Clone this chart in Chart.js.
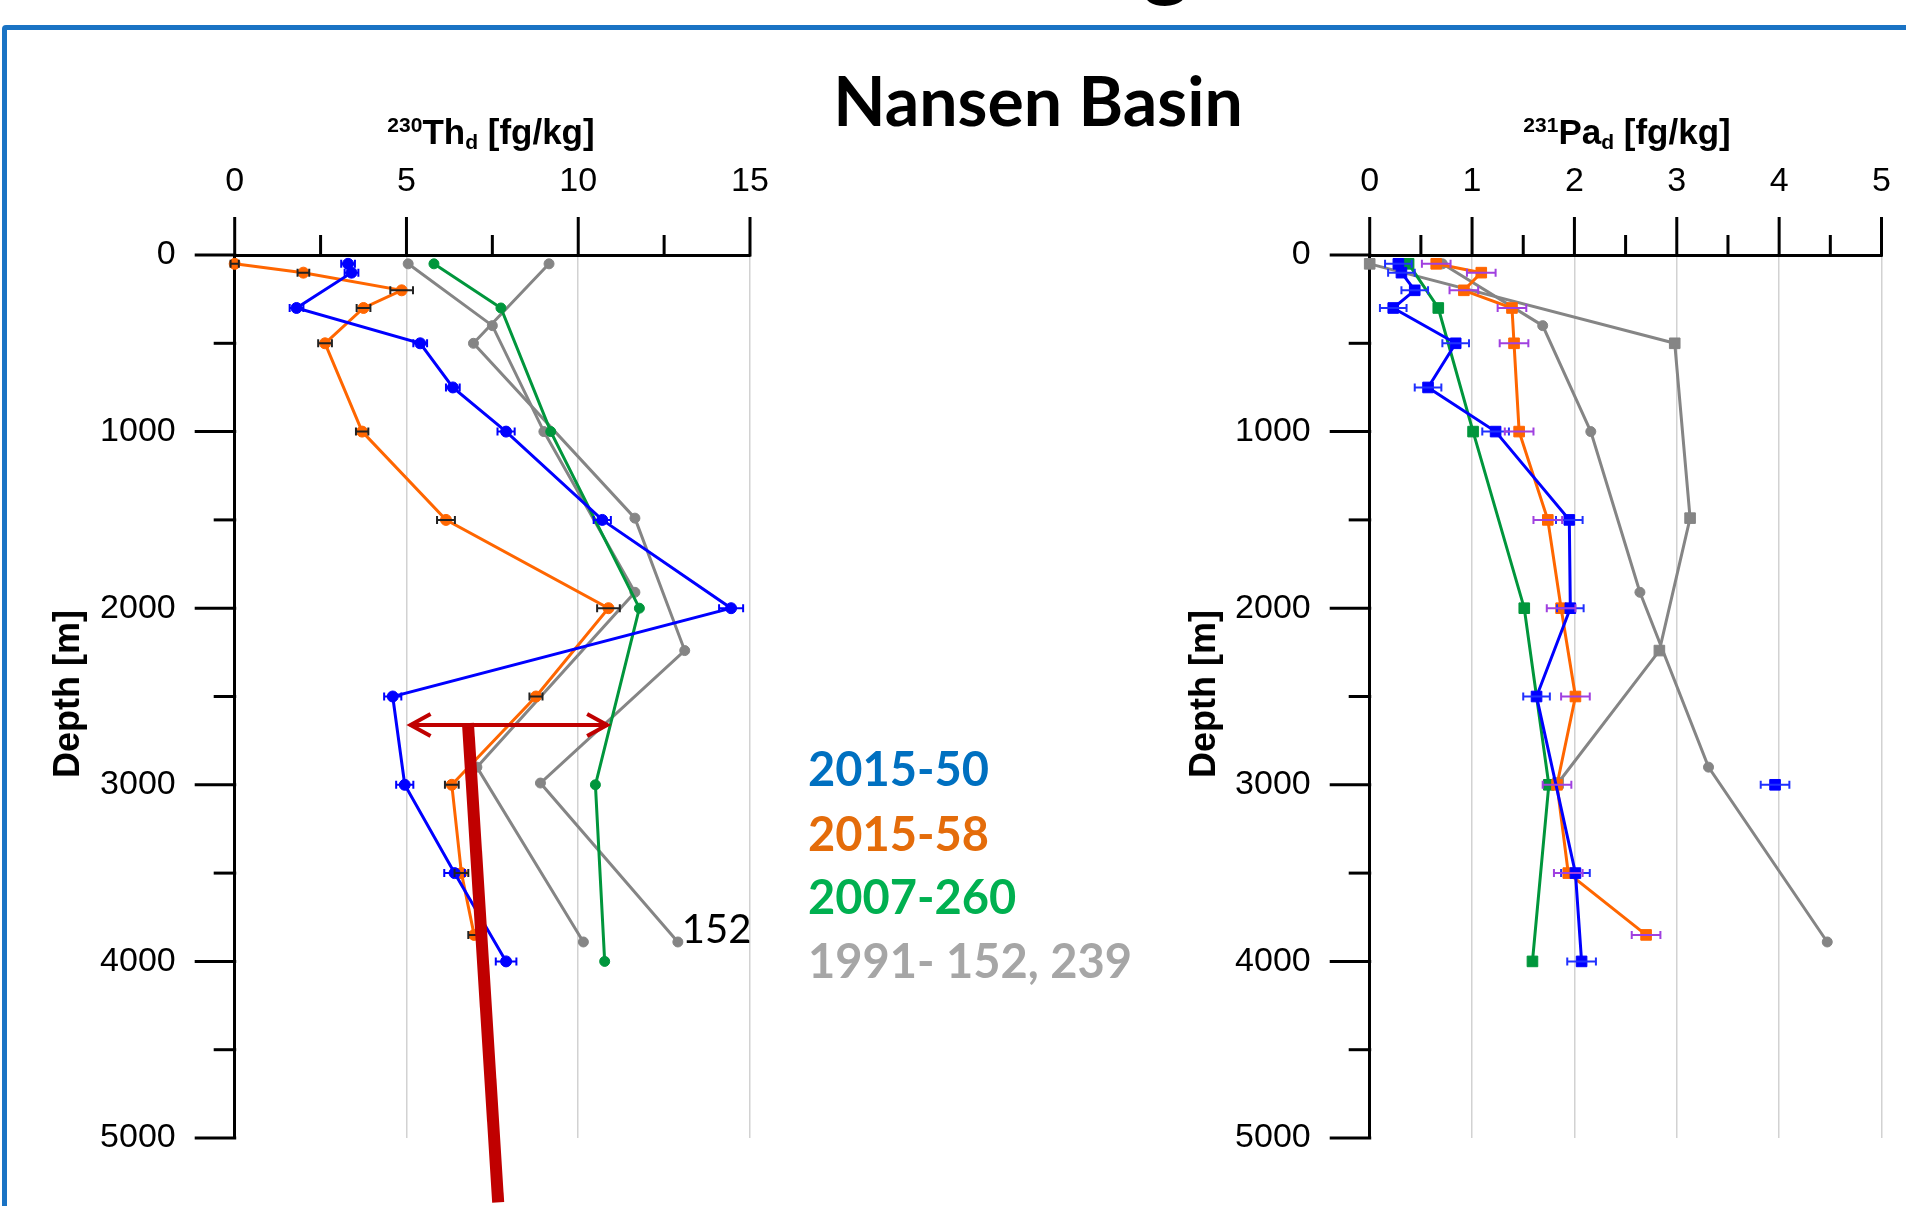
<!DOCTYPE html>
<html>
<head>
<meta charset="utf-8">
<script src="https://cdn.jsdelivr.net/npm/chart.js@4.4.1/dist/chart.umd.min.js"></script>
<style>
  html, body { margin: 0; padding: 0; background: #fff; }
  body { width: 1906px; height: 1206px; position: relative; overflow: hidden; font-family: "Liberation Sans", Arial, sans-serif; }
  canvas { position: absolute; }
  .frame { position: absolute; left: 2px; top: 25px; width: 2100px; height: 1400px; border: 5px solid #1a73c4; border-radius: 4px; box-sizing: border-box; }
  .txt { position: absolute; white-space: nowrap; line-height: 1.2; }
  .center { transform: translate(-50%, -50%); }
  .axt { font: bold 35px "Liberation Sans", Arial, sans-serif; color: #000; line-height: 1; }
  .axt sup { font-size: 0.6em; vertical-align: 0.55em; line-height: 0; }
  .axt sub { font-size: 0.6em; vertical-align: -0.25em; line-height: 0; }
  .depth { font: bold 36px "Liberation Sans", Arial, sans-serif; transform: translate(-50%, -50%) rotate(-90deg); }
  .leg { font: bold 47px Lato, "Open Sans", sans-serif; transform: translate(0, -50%); }
</style>
</head>
<body>
<div class="frame"></div>
<div class="txt" style="left:1166px; top:-91px; transform:translateX(-50%); font:bold 90px Lato, sans-serif; line-height:90px;">g</div>
<div class="txt center" style="left:1038px; top:99px; font:bold 68px Lato, sans-serif;">Nansen Basin</div>

<canvas id="thChart" width="820" height="1066" style="left:0; top:140px;"></canvas>
<canvas id="paChart" width="756" height="1066" style="left:1150px; top:140px;"></canvas>

<div class="txt center axt" style="left:491px; top:131px;"><sup>230</sup>Th<sub>d</sub> [fg/kg]</div>
<div class="txt center axt" style="left:1627px; top:131px;"><sup>231</sup>Pa<sub>d</sub> [fg/kg]</div>
<div class="txt depth" style="left:67px; top:694px;">Depth [m]</div>
<div class="txt depth" style="left:1203px; top:694px;">Depth [m]</div>

<div class="txt leg" style="left:808px; top:768px; color:#0070c0;">2015-50</div>
<div class="txt leg" style="left:808px; top:833px; color:#e46c0a;">2015-58</div>
<div class="txt leg" style="left:808px; top:896px; color:#00b050;">2007-260</div>
<div class="txt leg" style="left:808px; top:960px; color:#a6a6a6;">1991- 152, 239</div>

<script>
// ---- 230Th dissolved, fg/kg (left panel) ----
const thBlueDepth = [50, 100, 300, 500, 750, 1000, 1500, 2000, 2500, 3000, 3500, 4000];
const thBlue = [3.3, 3.4, 1.8, 5.4, 6.35, 7.9, 10.7, 14.45, 4.6, 4.95, 6.4, 7.9];
const thBlueErr = [0.2, 0.2, 0.2, 0.2, 0.2, 0.25, 0.25, 0.35, 0.25, 0.25, 0.3, 0.3];

const thOrangeDepth = [50, 100, 200, 300, 500, 1000, 1500, 2000, 2500, 3000, 3500, 3850];
const thOrange = [0.0, 2.0, 4.86, 3.75, 2.63, 3.71, 6.15, 10.88, 8.77, 6.32, 6.6, 6.97];
const thOrangeErr = [0.12, 0.17, 0.33, 0.2, 0.2, 0.18, 0.26, 0.33, 0.19, 0.2, 0.2, 0.17];

const thGreenDepth = [50, 300, 1000, 2000, 3000, 4000];
const thGreen = [5.8, 7.75, 9.2, 11.78, 10.5, 10.77];

const thGray239Depth = [50, 400, 1000, 1910, 2900, 3890];
const thGray239 = [5.05, 7.5, 9.0, 11.65, 7.05, 10.15];
const thGray152Depth = [50, 500, 1490, 2240, 2990, 3890];
const thGray152 = [9.15, 6.95, 11.65, 13.1, 8.9, 12.9];

// ---- 231Pa dissolved, fg/kg (right panel) ----
const paBlueDepth = [50, 100, 200, 300, 500, 750, 1000, 1500, 2000, 2500, 3500, 4000];
const paBlue = [0.28, 0.31, 0.44, 0.23, 0.84, 0.57, 1.23, 1.95, 1.96, 1.63, 2.01, 2.07];
const paBlueErr = [0.13, 0.13, 0.13, 0.13, 0.13, 0.13, 0.13, 0.13, 0.13, 0.13, 0.14, 0.14];
const paBlueOutlierDepth = [3000];
const paBlueOutlier = [3.96];
const paBlueOutlierErr = [0.14];

const paOrangeDepth = [50, 100, 200, 300, 500, 1000, 1500, 2000, 2500, 3000, 3500, 3850];
const paOrange = [0.65, 1.09, 0.92, 1.39, 1.41, 1.46, 1.74, 1.87, 2.01, 1.83, 1.94, 2.70];
const paOrangeErr = [0.14, 0.14, 0.14, 0.14, 0.14, 0.14, 0.14, 0.14, 0.14, 0.14, 0.14, 0.14];

const paGreenDepth = [50, 300, 1000, 2000, 3000, 4000];
const paGreen = [0.38, 0.67, 1.01, 1.51, 1.75, 1.59];

const paGray152Depth = [50, 500, 1490, 2240, 2990];
const paGray152 = [0.0, 2.98, 3.13, 2.83, 1.84];
const paGray239Depth = [50, 400, 1000, 1910, 2900, 3890];
const paGray239 = [0.71, 1.69, 2.16, 2.64, 3.31, 4.47];

// red arrow annotation on the Th panel (data units)
const arrowTh = [5.09, 10.87];
const arrowDepth = 2662;
const pointerTh = [6.79, 7.67];
const pointerDepth = [2662, 5364];

const BLUE = '#0000ff', ORANGE = '#ff6600', GREEN = '#00963c', GRAY = '#858585';

function series(label, xs, depths, color, style, r, err, errColor, showLine = true) {
  return {
    label,
    data: depths.map((d, i) => ({ x: xs[i], y: d })),
    borderColor: color,
    backgroundColor: color,
    pointStyle: style,
    pointRadius: r,
    pointBorderWidth: 1,
    borderWidth: 3,
    showLine,
    clip: false,
    xErr: err,
    errColor
  };
}

const isMultiple = (v, every) => Math.abs(v / every - Math.round(v / every)) < 1e-9;

// tick marks: long at labelled values, short in between
const tickMarks = {
  id: 'tickMarks',
  afterDraw(chart) {
    const { ctx, chartArea, scales: { x, y } } = chart;
    const every = chart.options.scales.x.labelEvery;
    ctx.save();
    ctx.strokeStyle = '#000';
    ctx.lineWidth = 3;
    x.ticks.forEach(t => {
      const px = x.getPixelForValue(t.value);
      const len = isMultiple(t.value, every) ? 38 : 20;
      ctx.beginPath();
      ctx.moveTo(px, chartArea.top + 1.5);
      ctx.lineTo(px, chartArea.top - len);
      ctx.stroke();
    });
    y.ticks.forEach(t => {
      const py = y.getPixelForValue(t.value);
      const len = t.value % 1000 === 0 ? 40 : 21;
      ctx.beginPath();
      ctx.moveTo(chartArea.left + 1.5, py);
      ctx.lineTo(chartArea.left - len, py);
      ctx.stroke();
    });
    ctx.restore();
  }
};

const errorBars = {
  id: 'errorBars',
  afterDatasetsDraw(chart) {
    const { ctx, scales: { x, y } } = chart;
    chart.data.datasets.forEach(ds => {
      if (!ds.xErr) return;
      ctx.save();
      ctx.strokeStyle = ds.errColor;
      ctx.lineWidth = 2;
      ds.data.forEach((p, i) => {
        const e = ds.xErr[i];
        const py = y.getPixelForValue(p.y);
        const x1 = x.getPixelForValue(p.x - e);
        const x2 = x.getPixelForValue(p.x + e);
        ctx.beginPath();
        ctx.moveTo(x1, py); ctx.lineTo(x2, py);
        ctx.moveTo(x1, py - 4); ctx.lineTo(x1, py + 4);
        ctx.moveTo(x2, py - 4); ctx.lineTo(x2, py + 4);
        ctx.stroke();
      });
      ctx.restore();
    });
  }
};

const thNotes = {
  id: 'thNotes',
  afterDraw(chart) {
    const { ctx, scales: { x, y } } = chart;
    ctx.save();
    ctx.fillStyle = '#000';
    ctx.font = '40px Lato, sans-serif';
    ctx.textBaseline = 'alphabetic';
    ctx.fillText('152', x.getPixelForValue(thGray152.at(-1)) + 4, y.getPixelForValue(thGray152Depth.at(-1)) + 1);

    const ax1 = x.getPixelForValue(arrowTh[0]);
    const ax2 = x.getPixelForValue(arrowTh[1]);
    const ay = y.getPixelForValue(arrowDepth);
    ctx.strokeStyle = '#c00000';
    ctx.lineWidth = 4;
    ctx.beginPath();
    ctx.moveTo(ax1, ay); ctx.lineTo(ax2, ay);
    ctx.moveTo(ax1 + 21, ay - 11); ctx.lineTo(ax1 + 1, ay); ctx.lineTo(ax1 + 21, ay + 11);
    ctx.moveTo(ax2 - 21, ay - 11); ctx.lineTo(ax2 - 1, ay); ctx.lineTo(ax2 - 21, ay + 11);
    ctx.stroke();

    ctx.lineWidth = 12;
    ctx.lineCap = 'butt';
    ctx.beginPath();
    ctx.moveTo(x.getPixelForValue(pointerTh[0]), y.getPixelForValue(pointerDepth[0]) - 2);
    ctx.lineTo(x.getPixelForValue(pointerTh[1]), y.getPixelForValue(pointerDepth[1]));
    ctx.stroke();
    ctx.restore();
  }
};

function profileChart(id, datasets, xMax, xStep, labelEvery, axisWidth, padRight, extra) {
  const tickFont = { family: "'Liberation Sans', Arial, sans-serif", size: 34 };
  return new Chart(document.getElementById(id), {
    type: 'line',
    data: { datasets },
    options: {
      responsive: false,
      animation: false,
      devicePixelRatio: 1,
      layout: { autoPadding: false, padding: { top: 0, right: padRight, bottom: 68, left: 0 } },
      elements: { line: { tension: 0 } },
      plugins: { legend: { display: false }, tooltip: { enabled: false } },
      scales: {
        x: {
          type: 'linear',
          position: 'top',
          min: 0,
          max: xMax,
          labelEvery,
          ticks: {
            stepSize: xStep,
            padding: 53,
            color: '#000',
            font: tickFont,
            maxRotation: 0,
            autoSkip: false,
            callback: v => (isMultiple(v, labelEvery) ? v : '')
          },
          grid: {
            drawTicks: false,
            lineWidth: 1.5,
            color: c => (c.tick && c.tick.value > 0 && isMultiple(c.tick.value, labelEvery)) ? '#d2d2d2' : 'rgba(0,0,0,0)'
          },
          border: { display: true, color: '#000', width: 3 },
          afterFit: s => { s.height = 115; s.paddingLeft = 0; s.paddingRight = 0; }
        },
        y: {
          type: 'linear',
          reverse: true,
          min: 0,
          max: 5000,
          ticks: {
            stepSize: 500,
            padding: 59,
            color: '#000',
            font: tickFont,
            autoSkip: false,
            callback: v => (v % 1000 === 0 ? v : '')
          },
          grid: { drawTicks: false, color: 'rgba(0,0,0,0)' },
          border: { display: true, color: '#000', width: 3 },
          afterFit: s => { s.width = axisWidth; s.paddingTop = 0; s.paddingBottom = 0; }
        }
      }
    },
    plugins: [errorBars, tickMarks].concat(extra || [])
  });
}

profileChart('thChart', [
  series('2015-50', thBlue, thBlueDepth, BLUE, 'circle', 5.5, thBlueErr, BLUE),
  series('2015-58', thOrange, thOrangeDepth, ORANGE, 'circle', 5.5, thOrangeErr, '#222'),
  series('2007-260', thGreen, thGreenDepth, GREEN, 'circle', 5),
  series('1991-152', thGray152, thGray152Depth, GRAY, 'circle', 5),
  series('1991-239', thGray239, thGray239Depth, GRAY, 'circle', 5)
], 15, 2.5, 5, 234.7, 70, [thNotes]);

profileChart('paChart', [
  series('2015-50', paBlue, paBlueDepth, BLUE, 'rect', 7.5, paBlueErr, '#2030ff'),
  series('2015-50 (3000 m)', paBlueOutlier, paBlueOutlierDepth, BLUE, 'rect', 7.5, paBlueOutlierErr, '#2030ff', false),
  series('2015-58', paOrange, paOrangeDepth, ORANGE, 'rect', 7.5, paOrangeErr, '#a040e0'),
  series('2007-260', paGreen, paGreenDepth, GREEN, 'rect', 7.5),
  series('1991-152', paGray152, paGray152Depth, GRAY, 'rect', 7.5),
  series('1991-239', paGray239, paGray239Depth, GRAY, 'circle', 5)
], 5, 0.5, 1, 219.7, 24.5);
</script>
</body>
</html>
